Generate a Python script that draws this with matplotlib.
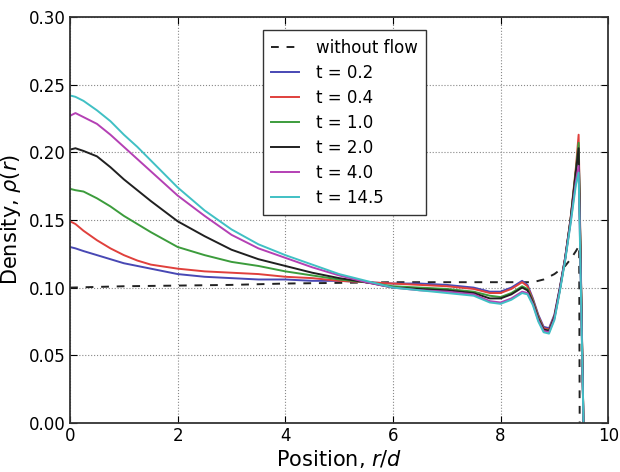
import numpy as np
import matplotlib
matplotlib.use('Agg')
import matplotlib.pyplot as plt
from matplotlib.ticker import FormatStrFormatter

#=========================#
#  data                   #
#=========================#
r = [0.0, 0.1, 0.25, 0.5, 0.75, 1.0, 1.25, 1.5, 2.0, 2.5, 3.0, 3.5, 4.0, 4.5,
     5.0, 5.5, 6.0, 6.5, 7.0, 7.5, 7.8, 8.0, 8.2, 8.4, 8.5, 8.6, 8.7, 8.8,
     8.9, 9.0, 9.1, 9.2, 9.3, 9.4, 9.45, 9.54]

rho_t02 = [0.130, 0.129, 0.127, 0.124, 0.121, 0.118, 0.116, 0.114, 0.110, 0.108, 0.107, 0.106, 0.106, 0.105,
           0.105, 0.104, 0.103, 0.103, 0.102, 0.100, 0.097, 0.097, 0.100, 0.105, 0.102, 0.092, 0.080, 0.071,
           0.070, 0.080, 0.100, 0.122, 0.150, 0.186, 0.205, 0.0]
rho_t04 = [0.149, 0.147, 0.142, 0.135, 0.129, 0.124, 0.120, 0.117, 0.114, 0.112, 0.111, 0.110, 0.108, 0.107,
           0.105, 0.104, 0.103, 0.102, 0.101, 0.099, 0.096, 0.096, 0.099, 0.104, 0.101, 0.091, 0.079, 0.070,
           0.069, 0.079, 0.099, 0.122, 0.151, 0.189, 0.213, 0.0]
rho_t10 = [0.173, 0.172, 0.171, 0.166, 0.160, 0.153, 0.147, 0.141, 0.130, 0.124, 0.119, 0.116, 0.112, 0.109,
           0.106, 0.104, 0.101, 0.100, 0.099, 0.097, 0.094, 0.093, 0.096, 0.101, 0.099, 0.090, 0.078, 0.069,
           0.068, 0.078, 0.098, 0.121, 0.150, 0.187, 0.207, 0.0]
rho_t20 = [0.202, 0.203, 0.201, 0.197, 0.189, 0.180, 0.172, 0.164, 0.149, 0.138, 0.128, 0.121, 0.116, 0.111,
           0.107, 0.104, 0.100, 0.099, 0.098, 0.096, 0.092, 0.092, 0.095, 0.100, 0.098, 0.089, 0.077, 0.069,
           0.068, 0.078, 0.099, 0.122, 0.150, 0.186, 0.203, 0.0]
rho_t40 = [0.227, 0.229, 0.226, 0.221, 0.213, 0.204, 0.195, 0.186, 0.168, 0.153, 0.139, 0.129, 0.122, 0.115,
           0.109, 0.104, 0.100, 0.098, 0.097, 0.095, 0.090, 0.089, 0.092, 0.097, 0.096, 0.088, 0.076, 0.068,
           0.067, 0.077, 0.098, 0.121, 0.148, 0.179, 0.190, 0.0]
rho_t145 = [0.242, 0.241, 0.238, 0.231, 0.223, 0.213, 0.204, 0.194, 0.174, 0.157, 0.143, 0.132, 0.124, 0.117,
            0.110, 0.105, 0.100, 0.098, 0.096, 0.094, 0.089, 0.088, 0.091, 0.096, 0.095, 0.087, 0.075, 0.067,
            0.066, 0.076, 0.097, 0.120, 0.147, 0.176, 0.185, 0.0]

r_wf   = [0.0, 1.0, 2.0, 3.0, 4.0, 5.0, 6.0, 7.0, 8.0, 8.6, 8.8, 9.0, 9.2, 9.3, 9.4, 9.46, 9.47]
rho_wf = [0.100, 0.101, 0.1015, 0.102, 0.103, 0.1035, 0.104, 0.104, 0.104, 0.104, 0.106, 0.110, 0.116,
          0.121, 0.127, 0.131, 0.0]

labels = ['t = 0.2', 't = 0.4', 't = 1.0', 't = 2.0', 't = 4.0', 't = 14.5']
series = [rho_t02, rho_t04, rho_t10, rho_t20, rho_t40, rho_t145]
colors = ['#4848b4', '#e0403c', '#3c9c3c', '#202020', '#b440b4', '#40c0c4']

#=========================#
#  figure                 #
#=========================#
fig = plt.figure(figsize=(6.2, 4.72), dpi=100, facecolor='white')
plt.subplots_adjust(left=0.113, right=0.981, bottom=0.104, top=0.964)
ax = fig.add_subplot(111, facecolor='white')

ax.plot(r_wf, rho_wf, c='#222222', ls='--', lw=1.4, dashes=(4, 4), label='without flow')
for y, lab, col in zip(series, labels, colors):
    ax.plot(r, y, c=col, lw=1.4, label=lab)

# axis label
ax.set_xlabel(r'Position, $r/d$', fontsize=15, labelpad=2)
ax.set_ylabel(r'Density, $\rho(r)$', fontsize=15, labelpad=4)

# lim
ax.set_xlim(0, 10)
ax.set_ylim(0, 0.30)
ax.set_xticks([0, 2, 4, 6, 8, 10])
ax.set_yticks([0.0, 0.05, 0.10, 0.15, 0.20, 0.25, 0.30])
ax.yaxis.set_major_formatter(FormatStrFormatter('%.2f'))

# ticks
ax.tick_params(axis='both', which='major', direction='in', length=5, width=0.8,
               labelsize=12, top=True, right=True, pad=3)
ax.minorticks_off()
for s in ax.spines.values():
    s.set_linewidth(1.3)
    s.set_color('#333333')

# grid
ax.grid(which='major', color='#888888', linestyle=':', linewidth=0.8)
ax.set_axisbelow(True)

# legend
leg = ax.legend(loc='upper center', bbox_to_anchor=(0.51, 0.988), fontsize=12, handlelength=1.7,
                labelspacing=0.42, handletextpad=1.0, borderpad=0.5, fancybox=False, framealpha=1)
leg.get_frame().set_edgecolor('#333333')
leg.get_frame().set_linewidth(1.0)

# save
fig.savefig('out.png', format='png', dpi=100, transparent=False)
plt.close()
